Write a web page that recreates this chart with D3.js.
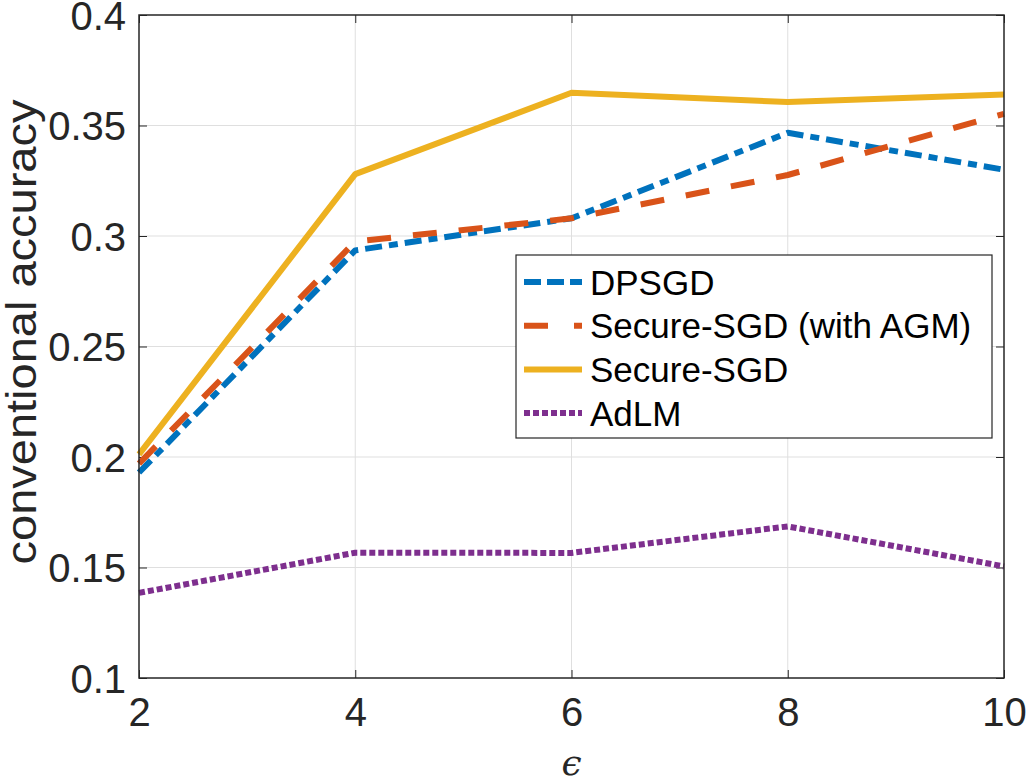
<!DOCTYPE html>
<html>
<head>
<meta charset="utf-8">
<script src="https://cdn.jsdelivr.net/npm/d3@7"></script>
<style>
  body { margin: 0; background: #fff; }
  svg { display: block; }
  text { font-family: "Liberation Sans", Arial, Helvetica, sans-serif; fill: #262626; }
</style>
</head>
<body>
<div id="chart"></div>
<script>
// data
const epsilons = [2, 4, 6, 8, 10];
const dpsgd = [0.193, 0.2935, 0.308, 0.3467, 0.330];
const secureAgm = [0.197, 0.2975, 0.308, 0.3276, 0.3553];
const secureSgd = [0.2012, 0.328, 0.3648, 0.3606, 0.364];
const adlm = [0.1385, 0.1567, 0.1566, 0.1686, 0.1505];
const xTicks = [2, 4, 6, 8, 10];
const yTicks = [0.1, 0.15, 0.2, 0.25, 0.3, 0.35, 0.4];
const seriesNames = ["DPSGD", "Secure-SGD (with AGM)", "Secure-SGD", "AdLM"];

const series = [
    { name: seriesNames[0], values: dpsgd, color: "#0072BD", dash: "17,7,9,7", legendDash: "17,6" },
    { name: seriesNames[1], values: secureAgm, color: "#D95319", dash: "24,22", legendDash: "24,26" },
    { name: seriesNames[2], values: secureSgd, color: "#EDB120", dash: null, legendDash: null },
    { name: seriesNames[3], values: adlm, color: "#7E2F8E", dash: "6,3", legendDash: "6,3" }
];

const W = 1026, H = 784;
const margin = { top: 15, right: 22, bottom: 106, left: 139 };
const width = W - margin.left - margin.right,
      height = H - margin.top - margin.bottom;

const svg = d3.select("#chart").append("svg")
    .attr("width", W)
    .attr("height", H);

const g = svg.append("g")
    .attr("transform", `translate(${margin.left},${margin.top})`);

const x = d3.scaleLinear().domain([2, 10]).range([0, width]);
const y = d3.scaleLinear().domain([0.1, 0.4]).range([height, 0]);

// grid
g.append("g").selectAll("line")
    .data(xTicks.slice(1, -1))
    .join("line")
    .attr("x1", d => x(d)).attr("x2", d => x(d))
    .attr("y1", 0).attr("y2", height)
    .attr("stroke", "#dfdfdf").attr("stroke-width", 1);
g.append("g").selectAll("line")
    .data(yTicks.slice(1, -1))
    .join("line")
    .attr("y1", d => y(d)).attr("y2", d => y(d))
    .attr("x1", 0).attr("x2", width)
    .attr("stroke", "#dfdfdf").attr("stroke-width", 1);

// axes (ticks pointing inward)
const fmt = d => String(d);
g.append("g")
    .attr("transform", `translate(0,${height})`)
    .call(d3.axisBottom(x).tickValues(xTicks).tickSize(-8).tickPadding(20).tickFormat(fmt))
    .call(a => a.select(".domain").remove())
    .call(a => a.selectAll("line").attr("stroke", "#262626"))
    .call(a => a.selectAll("text").attr("font-size", 40).attr("dy", "0.71em"));
g.append("g")
    .call(d3.axisLeft(y).tickValues(yTicks).tickSize(-8).tickPadding(13).tickFormat(fmt))
    .call(a => a.select(".domain").remove())
    .call(a => a.selectAll("line").attr("stroke", "#262626"))
    .call(a => a.selectAll("text").attr("font-size", 40).attr("dy", "0.36em"));
g.append("g")
    .call(d3.axisTop(x).tickValues(xTicks).tickSize(-8).tickFormat(""))
    .call(a => a.select(".domain").remove())
    .call(a => a.selectAll("line").attr("stroke", "#262626"));
g.append("g")
    .attr("transform", `translate(${width},0)`)
    .call(d3.axisRight(y).tickValues(yTicks).tickSize(-8).tickFormat(""))
    .call(a => a.select(".domain").remove())
    .call(a => a.selectAll("line").attr("stroke", "#262626"));

// lines
const line = d3.line()
    .x((d, i) => x(epsilons[i]))
    .y(d => y(d));

g.append("g").selectAll("path")
    .data(series)
    .join("path")
    .attr("d", d => line(d.values))
    .attr("fill", "none")
    .attr("stroke", d => d.color)
    .attr("stroke-width", 6)
    .attr("stroke-dasharray", d => d.dash)
    .attr("stroke-linejoin", "round");

// box
g.append("rect")
    .attr("width", width).attr("height", height)
    .attr("fill", "none").attr("stroke", "#262626").attr("stroke-width", 1.5);

// axis labels
svg.append("text")
    .attr("transform", "translate(36,332) rotate(-90)")
    .attr("text-anchor", "middle")
    .attr("font-size", 42)
    .attr("textLength", 465)
    .attr("lengthAdjust", "spacingAndGlyphs")
    .text("conventional accuracy");
svg.append("text")
    .attr("x", margin.left + width / 2)
    .attr("y", 775)
    .attr("text-anchor", "middle")
    .attr("font-size", 36)
    .style("font-family", "'DejaVu Serif', 'Liberation Serif', serif")
    .style("font-style", "italic")
    .text("ϵ");

// legend
const legend = svg.append("g").attr("transform", "translate(516,255)");
legend.append("rect")
    .attr("width", 476).attr("height", 183)
    .attr("fill", "#fff").attr("stroke", "#262626").attr("stroke-width", 1.2);
const rows = legend.selectAll("g.row")
    .data(series)
    .join("g")
    .attr("class", "row")
    .attr("transform", (d, i) => `translate(0,${27 + i * 43.7})`);
rows.append("line")
    .attr("x1", 8).attr("x2", 66)
    .attr("stroke", d => d.color)
    .attr("stroke-width", 6)
    .attr("stroke-dasharray", d => d.legendDash);
rows.append("text")
    .attr("x", 74)
    .attr("dy", "0.36em")
    .attr("font-size", 35)
    .style("fill", "#000")
    .text(d => d.name);
</script>
</body>
</html>
